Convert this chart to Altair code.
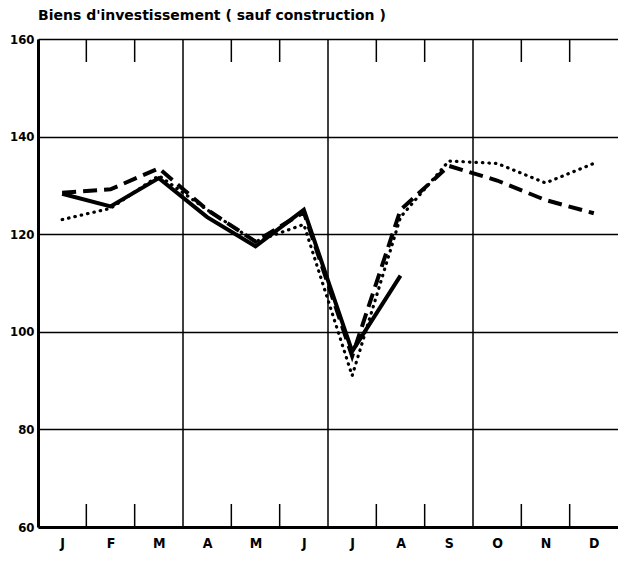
import altair as alt
import pandas as pd

months = ["J", "F", "M", "A", "M", "J", "J", "A", "S", "O", "N", "D"]
solid = [128.3, 125.7, 131.5, 123.5, 117.5, 125.0, 96.0, 111.5]
dashed = [128.5, 129.2, 133.5, 125.0, 118.5, 124.5, 95.0, 125.0, 134.0, 131.0, 127.0, 124.3]
dotted = [123.0, 125.3, 132.0, 125.0, 118.5, 122.0, 91.0, 123.5, 135.0, 134.5, 130.5, 134.5]
y_ticks = [60, 80, 100, 120, 140, 160]
quarter_lines = [3, 6, 9]
month_bounds = [1, 2, 4, 5, 7, 8, 10, 11]

FONT = "DejaVu Sans Condensed, Liberation Sans Narrow, DejaVu Sans, sans-serif"
TFONT = "DejaVu Sans, sans-serif"

rows = []
for name, vals in [("solid", solid), ("dashed", dashed), ("dotted", dotted)]:
    for i, v in enumerate(vals):
        rows.append({"series": name, "x": i + 0.5, "v": v})
df = pd.DataFrame(rows)

H = 488
xscale = alt.Scale(domain=[0, 12], nice=False, zero=False)
yscale = alt.Scale(domain=[60, 160], nice=False, zero=False)

label_expr = "[" + ",".join("'%s'" % m for m in months) + "][floor(datum.value)]"

base = alt.Chart(df)

axes_layer = alt.Chart(pd.DataFrame({"x": [0.5], "v": [60]})).mark_point(opacity=0).encode(
    x=alt.X("x:Q", scale=xscale, axis=alt.Axis(
        values=[i + 0.5 for i in range(12)], labelExpr=label_expr, title=None,
        grid=False, ticks=False, domain=True, domainColor="black", domainWidth=3,
        labelFont=FONT, labelFontSize=14, labelFontWeight="bold", labelColor="black",
        labelPadding=9)),
    y=alt.Y("v:Q", scale=yscale, axis=alt.Axis(
        values=y_ticks, title=None, grid=True, gridColor="black", gridWidth=1.5,
        gridOpacity=1, ticks=False, domain=True, domainColor="black", domainWidth=3,
        labelFont=FONT, labelFontSize=13, labelFontWeight="bold", labelColor="black",
        labelPadding=4)),
)

qdf = pd.DataFrame({"x": quarter_lines, "y1": [60] * 3, "y2": [160] * 3})
quarters = alt.Chart(qdf).mark_rule(color="black", strokeWidth=1.5).encode(
    x=alt.X("x:Q", scale=xscale), y=alt.Y("y1:Q", scale=yscale), y2="y2:Q")

bdf = pd.DataFrame({"x": month_bounds})
bottom_ticks = alt.Chart(bdf).mark_rule(color="black", strokeWidth=1.5).encode(
    x=alt.X("x:Q", scale=xscale), y=alt.value(H), y2=alt.value(H - 23))
top_ticks = alt.Chart(bdf).mark_rule(color="black", strokeWidth=1.5).encode(
    x=alt.X("x:Q", scale=xscale), y=alt.value(0), y2=alt.value(23))

def line(name, **kw):
    return base.transform_filter(alt.datum.series == name).mark_line(color="black", **kw).encode(
        x=alt.X("x:Q", scale=xscale), y=alt.Y("v:Q", scale=yscale), order="x:Q")

l_solid = line("solid", strokeWidth=4)
l_dashed = line("dashed", strokeWidth=4, strokeDash=[14, 7])
l_dotted = line("dotted", strokeWidth=3.2, strokeDash=[0.5, 6], strokeCap="round")

chart = alt.layer(axes_layer, quarters, bottom_ticks, top_ticks, l_dotted, l_dashed, l_solid).properties(
    width=580, height=H,
    autosize=alt.AutoSizeParams(type="none"),
    padding={"left": 30, "top": 31, "right": 0, "bottom": 25},
    title=alt.TitleParams("Biens d'investissement ( sauf construction )", anchor="start", frame="group",
                          font=TFONT, fontSize=14, fontWeight="bold", color="black", offset=10),
).configure_view(stroke=None).configure(background="white")

chart.save("out.html", embed_options={"renderer": "svg", "actions": False})
